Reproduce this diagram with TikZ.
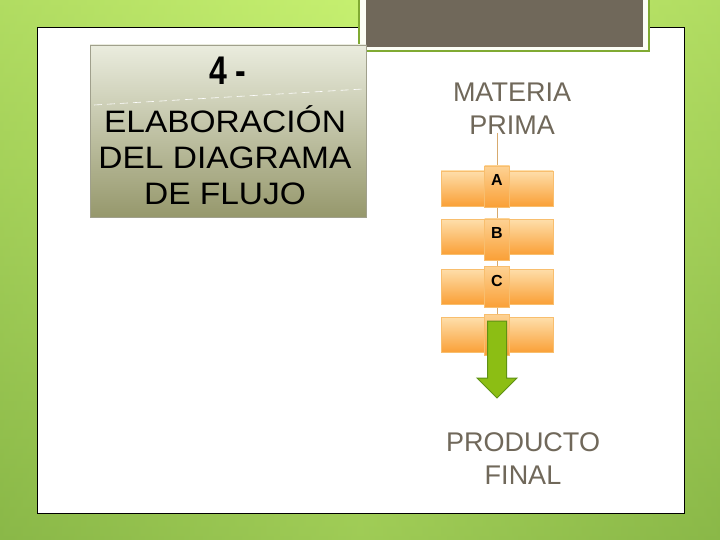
\documentclass[tikz,border=0pt]{standalone}
\usepackage{fontspec}
\setmainfont{Liberation Sans}
\usetikzlibrary{positioning}
\usetikzlibrary{arrows.meta}
\usetikzlibrary{calc}
\definecolor{figFondoArriba}{RGB}{198,240,112}
\definecolor{figFondoAbajo}{RGB}{138,184,72}
\definecolor{figMarco}{RGB}{128,170,50}
\definecolor{figPardo}{RGB}{112,104,90}
\definecolor{figTituloArriba}{RGB}{234,236,222}
\definecolor{figTituloAbajo}{RGB}{150,152,108}
\definecolor{figTituloBorde}{RGB}{160,160,140}
\definecolor{figNaranjaArriba}{RGB}{254,222,170}
\definecolor{figNaranjaAbajo}{RGB}{250,160,55}
\definecolor{figNaranjaBorde}{RGB}{248,190,110}
\definecolor{figLinea}{RGB}{215,170,110}
\definecolor{figVerde}{RGB}{140,190,20}
\definecolor{figVerdeBorde}{RGB}{95,145,20}
\pgfdeclarelayer{fondo}
\pgfdeclarelayer{lineas}
\pgfsetlayers{fondo,lineas,main}
\tikzset{
  titulo/.style={
    rectangle, draw=figTituloBorde, line width=0.6pt,
    top color=figTituloArriba, bottom color=figTituloAbajo,
    minimum width=276, minimum height=172, inner sep=0pt
  },
  texto/.style={
    align=center, font=\fontsize{31}{36}\selectfont, text=black, inner sep=0pt
  },
  rotulo/.style={
    align=center, font=\fontsize{27}{33}\selectfont, text=figPardo, inner sep=0pt
  },
  caja/.style={
    rectangle, draw=figNaranjaBorde, line width=0.6pt,
    top color=figNaranjaArriba, bottom color=figNaranjaAbajo,
    minimum width=112, minimum height=35, inner sep=0pt
  },
  pestana/.style={
    rectangle, draw=figNaranjaBorde, line width=0.6pt,
    top color=figNaranjaArriba!80!figNaranjaAbajo, bottom color=figNaranjaAbajo,
    minimum width=25, minimum height=41, inner sep=0pt
  },
  letra/.style={font=\fontsize{16}{16}\selectfont\bfseries, inner sep=0pt},
  linea/.style={line width=0.8pt, draw=figLinea},
  flechaverde/.style={line width=1pt, draw=figVerdeBorde, fill=figVerde, line join=miter}
}

\begin{document}
\begin{tikzpicture}[x=1pt, y=-1pt]
  \useasboundingbox (0,0) rectangle (720,540);
  \begin{pgfonlayer}{fondo}
    \shade[top color=figFondoArriba, bottom color=figFondoAbajo] (0,0) rectangle (720,540);
    \shade[left color=figFondoAbajo, right color=figFondoAbajo, middle color=figFondoArriba,
      opacity=0.35] (0,0) rectangle (720,540);
    \draw[fill=white, line width=0.8pt] (37,27) rectangle (684,513);
    \draw[fill=white!94!figFondoArriba, draw=figMarco, line width=2pt] (359,-3) rectangle (649,51);
    \fill[figPardo] (366,-3) rectangle (643,47);
  \end{pgfonlayer}

  % bloque del titulo
  \node[titulo] (tb) at (228,131) {};
  \node[texto, font=\fontsize{40}{40}\selectfont\bfseries, xscale=0.8] (num) at (228,71) {4 -};
  \node[texto, xscale=1.08] (tit) at (225,155) {ELABORACIÓN\\DEL DIAGRAMA\\DE FLUJO};
  \draw[white, dashed, dash pattern=on 8pt off 5pt, line width=0.6pt] (94,105) -- (363,89);

  % diagrama de flujo
  \node[rotulo] (mp) at (512,109) {MATERIA\\PRIMA};
  \node[caja] (c1) at (497,188.5) {};
  \node[caja] (c2) at (497,237) {};
  \node[caja] (c3) at (497,286.5) {};
  \node[caja] (c4) at (497,335) {};
  \node[pestana] (t1) at (497,186.5) {};
  \node[pestana] (t2) at (497,239.5) {};
  \node[pestana] (t3) at (497,287) {};
  \node[pestana] (t4) at (497,334.5) {};
  \node[letra, below=9pt of t1.north] (la) {A};
  \node[letra, below=9pt of t2.north] (lb) {B};
  \node[letra, below=9pt of t3.north] (lc) {C};
  \begin{pgfonlayer}{lineas}
    \draw[linea] (mp.south -| t1) ++(0,-2) -- (t4.center);
  \end{pgfonlayer}
  \draw[flechaverde] (487.5,321) -- (506.5,321) -- (506.5,378) -- (517,378)
    -- (497,398) -- (477,378) -- (487.5,378) -- cycle;
  \node[rotulo] (pf) at (523,459) {PRODUCTO\\FINAL};
\end{tikzpicture}
\end{document}
